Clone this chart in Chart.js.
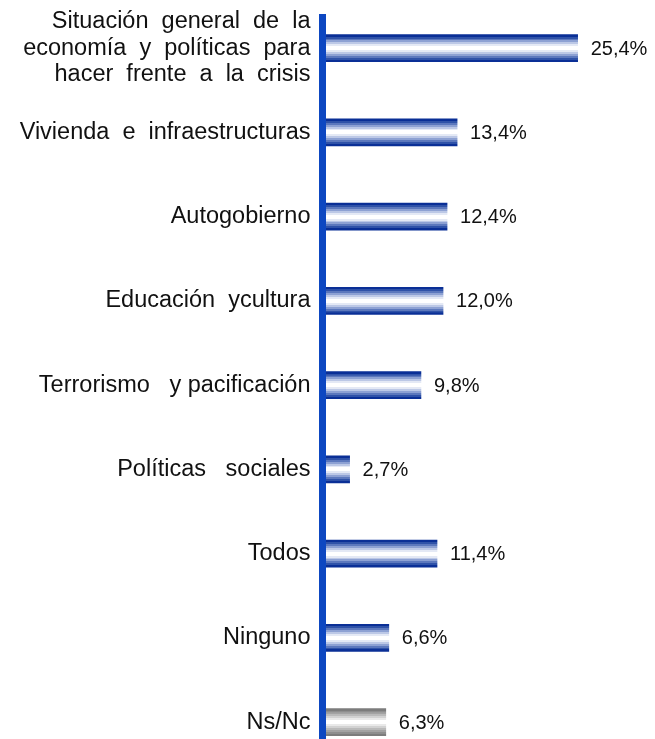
<!DOCTYPE html>
<html>
<head>
<meta charset="utf-8">
<script src="https://cdn.jsdelivr.net/npm/chart.js@4/dist/chart.umd.min.js"></script>
<style>
  html, body { margin: 0; padding: 0; background: #fff; }
</style>
</head>
<body>
<canvas id="chart" width="655" height="739"></canvas>
<script>
var categories = [
    ['Situación  general  de  la', 'economía  y  políticas  para', 'hacer  frente  a  la  crisis'],
    'Vivienda  e  infraestructuras',
    'Autogobierno',
    'Educación  ycultura',
    'Terrorismo   y pacificación',
    'Políticas   sociales',
    'Todos',
    'Ninguno',
    'Ns/Nc'
];
var values = [25.4, 13.4, 12.4, 12.0, 9.8, 2.7, 11.4, 6.6, 6.3];
var valueLabels = ['25,4%', '13,4%', '12,4%', '12,0%', '9,8%', '2,7%', '11,4%', '6,6%', '6,3%'];

var blueBands = ['#0a2f96', '#2f52a8', '#5c78bd', '#8da1d3', '#bcc8e6', '#e4e9f5', '#ffffff'];
var greyBands = ['#7c7c7c', '#8e8e8e', '#a3a3a3', '#bababa', '#d2d2d2', '#e9e9e9', '#ffffff'];

function stripeGradient(ctx, top, bottom, bands) {
    var g = ctx.createLinearGradient(0, top, 0, bottom);
    var n = bands.length;
    var step = 0.5 / n;
    for (var i = 0; i < n; i++) {
        g.addColorStop(i * step, bands[i]);
        g.addColorStop((i + 1) * step - 0.001, bands[i]);
        g.addColorStop(1 - (i + 1) * step + 0.001, bands[i]);
        g.addColorStop(1 - i * step, bands[i]);
    }
    return g;
}

// striped fill per bar, using the bar positions the library computed
var stripePlugin = {
    id: 'stripes',
    beforeDatasetsDraw: function(chart) {
        var meta = chart.getDatasetMeta(0);
        meta.data.forEach(function(bar, i) {
            var bands = i === values.length - 1 ? greyBands : blueBands;
            var h = bar.height / 2;
            bar.options = Object.assign({}, bar.options, {
                backgroundColor: stripeGradient(chart.ctx, bar.y - h, bar.y + h, bands)
            });
        });
    }
};

var valueLabelPlugin = {
    id: 'valueLabels',
    afterDatasetsDraw: function(chart) {
        var ctx = chart.ctx;
        var meta = chart.getDatasetMeta(0);
        ctx.save();
        ctx.font = '20px "Liberation Sans", Arial, sans-serif';
        ctx.fillStyle = '#111';
        ctx.textAlign = 'left';
        ctx.textBaseline = 'middle';
        meta.data.forEach(function(bar, i) {
            ctx.fillText(valueLabels[i], bar.x + 13, bar.y + 1);
        });
        ctx.restore();
    }
};

var ctx = document.getElementById('chart').getContext('2d');
var chart = new Chart(ctx, {
    type: 'bar',
    data: {
        datasets: [{
            data: values.map(function(v, i) { return { x: v, y: i }; }),
            barThickness: 27,
            borderWidth: 0,
            backgroundColor: '#0a2f96'
        }]
    },
    options: {
        indexAxis: 'y',
        responsive: false,
        animation: false,
        layout: { padding: { top: 17, right: 1, bottom: 0, left: 0 } },
        plugins: {
            legend: { display: false },
            tooltip: { enabled: false }
        },
        scales: {
            x: {
                type: 'linear',
                display: false,
                min: 0,
                max: 33
            },
            y: {
                type: 'linear',
                reverse: true,
                offset: false,
                min: -0.37,
                max: 8.2,
                afterFit: function(scale) {
                    scale.width = 322.5;
                    scale.paddingTop = 0;
                    scale.paddingBottom = 0;
                },
                grid: { display: false, drawTicks: false, offset: false },
                border: { display: true, color: '#0d47c1', width: 7, z: 1 },
                ticks: {
                    stepSize: 1,
                    includeBounds: false,
                    autoSkip: false,
                    padding: 12,
                    color: '#111',
                    font: { family: '"Liberation Sans", Arial, sans-serif', size: 23.5, lineHeight: 1.13 },
                    callback: function(value) {
                        return Number.isInteger(value) ? categories[value] : '';
                    }
                }
            }
        }
    },
    plugins: [stripePlugin, valueLabelPlugin]
});
</script>
</body>
</html>
